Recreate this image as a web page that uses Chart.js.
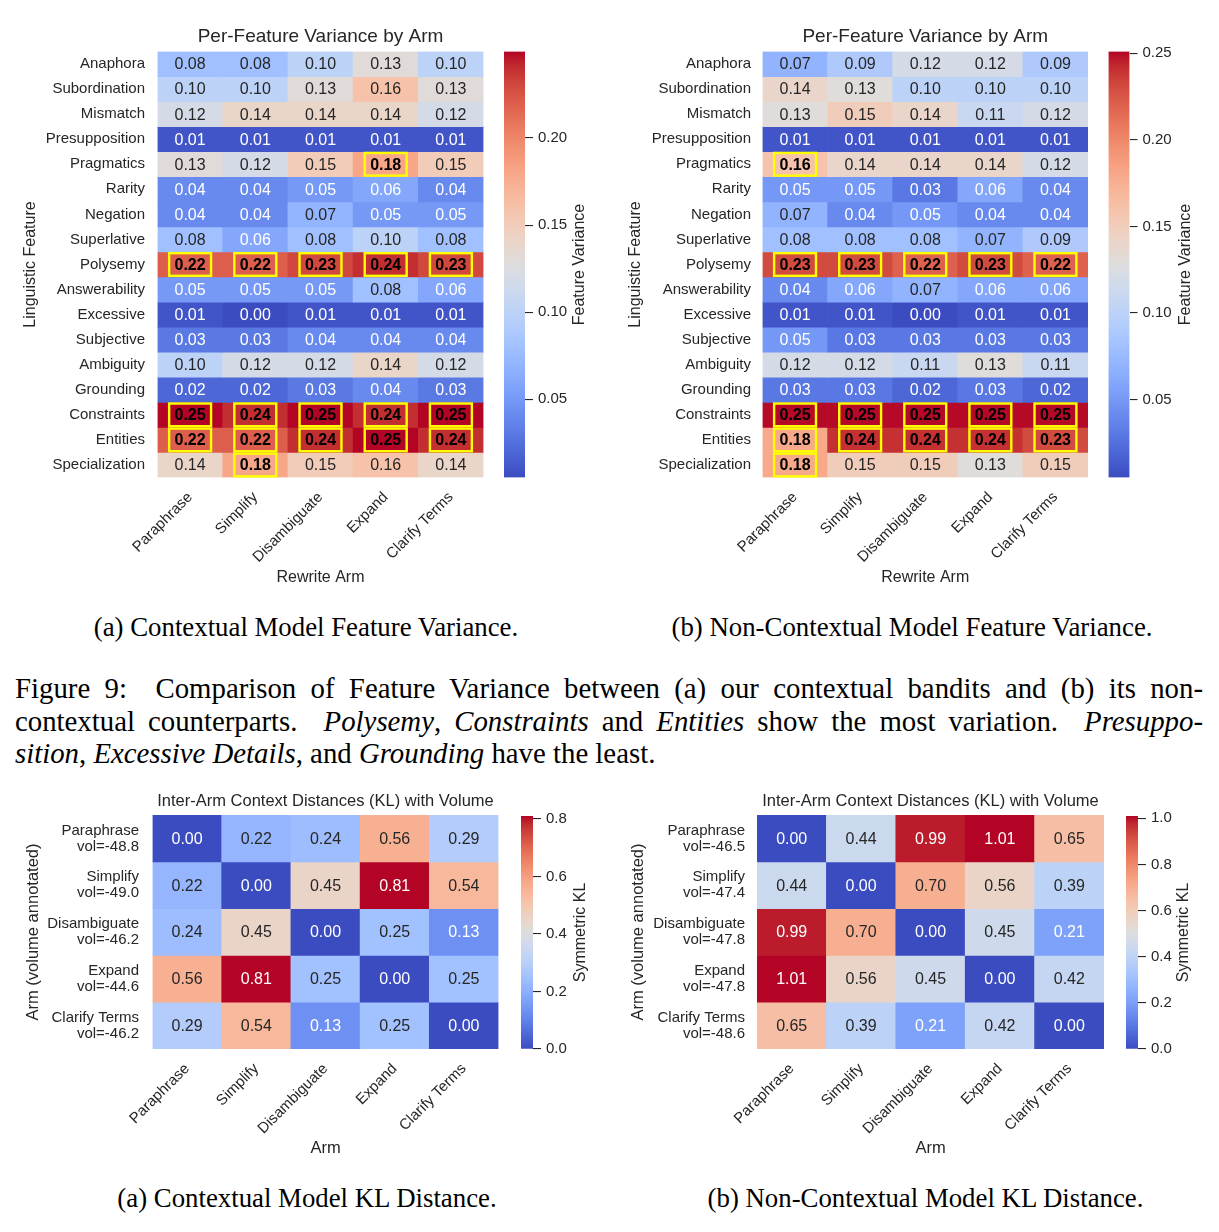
<!DOCTYPE html>
<html>
<head>
<meta charset="utf-8">
<title>Figure 9 - Feature variance and KL distance</title>
<script src="https://cdn.jsdelivr.net/npm/chart.js@4.4.1/dist/chart.umd.min.js"></script>
<style>
  html, body { margin: 0; padding: 0; background: #fff; }
  #page { position: relative; width: 1219px; height: 1232px; overflow: hidden; background: #fff; }
  #page canvas { position: absolute; }
  .sub, .cap { position: absolute; font-family: 'Liberation Serif', 'Times New Roman', serif; color: #000; }
  .sub { font-size: 26.8px; line-height: 32px; text-align: center; white-space: nowrap; }
  .cap { left: 15px; width: 1188px; font-size: 28.8px; line-height: 32.5px; text-align: justify; }
  .cap.full { text-align-last: justify; }
</style>
</head>
<body>
<div id="page">
  <canvas id="var-ctx" width="500" height="600" style="left:0;top:0"></canvas>
  <canvas id="var-ctx-cb" width="130" height="600" style="left:490px;top:0"></canvas>
  <canvas id="var-non" width="480" height="600" style="left:620px;top:0"></canvas>
  <canvas id="var-non-cb" width="124" height="600" style="left:1095px;top:0"></canvas>

  <div class="sub" style="left:0;width:612px;top:611px">(a) Contextual Model Feature Variance.</div>
  <div class="sub" style="left:605px;width:614px;top:611px">(b) Non-Contextual Model Feature Variance.</div>

  <div class="cap full" style="top:672px">Figure 9:&nbsp; Comparison of Feature Variance between (a) our contextual bandits and (b) its non-</div>
  <div class="cap full" style="top:704.5px">contextual counterparts.&nbsp; <i>Polysemy</i>, <i>Constraints</i> and <i>Entities</i> show the most variation.&nbsp; <i>Presuppo-</i></div>
  <div class="cap" style="top:737px"><i>sition</i>, <i>Excessive Details</i>, and <i>Grounding</i> have the least.</div>

  <canvas id="kl-ctx" width="515" height="390" style="left:0;top:770px"></canvas>
  <canvas id="kl-ctx-cb" width="120" height="390" style="left:505px;top:770px"></canvas>
  <canvas id="kl-non" width="500" height="390" style="left:620px;top:770px"></canvas>
  <canvas id="kl-non-cb" width="109" height="390" style="left:1110px;top:770px"></canvas>

  <div class="sub" style="left:0;width:614px;top:1182px">(a) Contextual Model KL Distance.</div>
  <div class="sub" style="left:632px;width:587px;top:1182px">(b) Non-Contextual Model KL Distance.</div>
</div>

<script>
// ---- data ----
const arms = ['Paraphrase', 'Simplify', 'Disambiguate', 'Expand', 'Clarify Terms'];
const features = ['Anaphora', 'Subordination', 'Mismatch', 'Presupposition', 'Pragmatics', 'Rarity',
  'Negation', 'Superlative', 'Polysemy', 'Answerability', 'Excessive', 'Subjective', 'Ambiguity',
  'Grounding', 'Constraints', 'Entities', 'Specialization'];

// per-feature variance, rows = features, columns = arms
const ctxVariance = [
  [0.08, 0.08, 0.10, 0.13, 0.10],
  [0.10, 0.10, 0.13, 0.16, 0.13],
  [0.12, 0.14, 0.14, 0.14, 0.12],
  [0.01, 0.01, 0.01, 0.01, 0.01],
  [0.13, 0.12, 0.15, 0.18, 0.15],
  [0.04, 0.04, 0.05, 0.06, 0.04],
  [0.04, 0.04, 0.07, 0.05, 0.05],
  [0.08, 0.06, 0.08, 0.10, 0.08],
  [0.22, 0.22, 0.23, 0.24, 0.23],
  [0.05, 0.05, 0.05, 0.08, 0.06],
  [0.01, 0.00, 0.01, 0.01, 0.01],
  [0.03, 0.03, 0.04, 0.04, 0.04],
  [0.10, 0.12, 0.12, 0.14, 0.12],
  [0.02, 0.02, 0.03, 0.04, 0.03],
  [0.25, 0.24, 0.25, 0.24, 0.25],
  [0.22, 0.22, 0.24, 0.25, 0.24],
  [0.14, 0.18, 0.15, 0.16, 0.14]
];
const nonCtxVariance = [
  [0.07, 0.09, 0.12, 0.12, 0.09],
  [0.14, 0.13, 0.10, 0.10, 0.10],
  [0.13, 0.15, 0.14, 0.11, 0.12],
  [0.01, 0.01, 0.01, 0.01, 0.01],
  [0.16, 0.14, 0.14, 0.14, 0.12],
  [0.05, 0.05, 0.03, 0.06, 0.04],
  [0.07, 0.04, 0.05, 0.04, 0.04],
  [0.08, 0.08, 0.08, 0.07, 0.09],
  [0.23, 0.23, 0.22, 0.23, 0.22],
  [0.04, 0.06, 0.07, 0.06, 0.06],
  [0.01, 0.01, 0.00, 0.01, 0.01],
  [0.05, 0.03, 0.03, 0.03, 0.03],
  [0.12, 0.12, 0.11, 0.13, 0.11],
  [0.03, 0.03, 0.02, 0.03, 0.02],
  [0.25, 0.25, 0.25, 0.25, 0.25],
  [0.18, 0.24, 0.24, 0.24, 0.23],
  [0.18, 0.15, 0.15, 0.13, 0.15]
];

// cells outlined in yellow (feature -> arms)
const ctxMarked = {
  Pragmatics: ['Expand'],
  Polysemy: ['Paraphrase', 'Simplify', 'Disambiguate', 'Expand', 'Clarify Terms'],
  Constraints: ['Paraphrase', 'Simplify', 'Disambiguate', 'Expand', 'Clarify Terms'],
  Entities: ['Paraphrase', 'Simplify', 'Disambiguate', 'Expand', 'Clarify Terms'],
  Specialization: ['Simplify']
};
const nonCtxMarked = {
  Pragmatics: ['Paraphrase'],
  Polysemy: ['Paraphrase', 'Simplify', 'Disambiguate', 'Expand', 'Clarify Terms'],
  Constraints: ['Paraphrase', 'Simplify', 'Disambiguate', 'Expand', 'Clarify Terms'],
  Entities: ['Paraphrase', 'Simplify', 'Disambiguate', 'Expand', 'Clarify Terms'],
  Specialization: ['Paraphrase']
};

// symmetric KL between arms
const ctxKL = [
  [0.00, 0.22, 0.24, 0.56, 0.29],
  [0.22, 0.00, 0.45, 0.81, 0.54],
  [0.24, 0.45, 0.00, 0.25, 0.13],
  [0.56, 0.81, 0.25, 0.00, 0.25],
  [0.29, 0.54, 0.13, 0.25, 0.00]
];
const nonCtxKL = [
  [0.00, 0.44, 0.99, 1.01, 0.65],
  [0.44, 0.00, 0.70, 0.56, 0.39],
  [0.99, 0.70, 0.00, 0.45, 0.21],
  [1.01, 0.56, 0.45, 0.00, 0.42],
  [0.65, 0.39, 0.21, 0.42, 0.00]
];
const ctxVolume = [-48.8, -49.0, -46.2, -44.6, -46.2];
const nonCtxVolume = [-46.5, -47.4, -47.8, -47.8, -48.6];

// colour scale limits and colorbar tick steps
const ctxVarRange = [0.005, 0.2497];
const nonCtxVarRange = [0.005, 0.251];
const ctxKLRange = [0, 0.81];
const nonCtxKLRange = [0, 1.01];
const varTickStep = 0.05;
const klTickStep = 0.2;

// ---- colours ----
// Moreland cool-warm table, 33 evenly spaced stops
const COOLWARM = [
  [59, 76, 192], [68, 90, 204], [77, 104, 215], [87, 117, 225], [98, 130, 234], [108, 142, 241],
  [119, 154, 247], [130, 165, 251], [141, 176, 254], [152, 185, 255], [163, 194, 255], [174, 201, 253],
  [184, 208, 249], [194, 213, 244], [204, 217, 238], [213, 219, 230], [221, 221, 221], [229, 216, 209],
  [236, 211, 197], [241, 204, 185], [245, 196, 173], [247, 187, 160], [247, 177, 148], [247, 166, 135],
  [244, 154, 123], [241, 141, 111], [236, 127, 99], [229, 112, 88], [222, 96, 77], [213, 80, 66],
  [203, 62, 56], [192, 40, 47], [180, 4, 38]
];
const FONT = "'Liberation Sans', Arial, sans-serif";
const INK = '#262626';

function coolwarm(t) {
  t = Math.min(1, Math.max(0, t)) * (COOLWARM.length - 1);
  const i = Math.min(Math.floor(t), COOLWARM.length - 2);
  const f = t - i;
  return COOLWARM[i].map((c, k) => Math.round(c + (COOLWARM[i + 1][k] - c) * f));
}
const rgb = c => `rgb(${c[0]}, ${c[1]}, ${c[2]})`;

function luminance(c) {
  const lin = v => { v /= 255; return v <= 0.03928 ? v / 12.92 : Math.pow((v + 0.055) / 1.055, 2.4); };
  return 0.2126 * lin(c[0]) + 0.7152 * lin(c[1]) + 0.0722 * lin(c[2]);
}

Chart.defaults.font.family = FONT;
Chart.defaults.color = INK;

// writes the value in every cell, yellow frame on marked ones
const cellText = {
  id: 'cellText',
  afterDatasetsDraw(chart, args, opts) {
    const { ctx } = chart;
    ctx.save();
    ctx.textAlign = 'center';
    ctx.textBaseline = 'middle';
    chart.data.datasets.forEach((ds, i) => {
      chart.getDatasetMeta(i).data.forEach((bar, j) => {
        const cy = (bar.y + bar.base) / 2;
        const h = Math.abs(bar.base - bar.y);
        if (ds.marks[j]) {
          const lw = 2.4;
          const w = bar.width * 0.68;
          ctx.strokeStyle = '#ffff00';
          ctx.lineWidth = lw;
          ctx.strokeRect(bar.x - w / 2 + lw / 2, cy - h / 2 + lw / 2, w - lw, h - lw);
          ctx.font = `bold ${opts.size}px ${FONT}`;
          ctx.fillStyle = '#000';
        } else {
          ctx.font = `${opts.size}px ${FONT}`;
          ctx.fillStyle = luminance(ds.cells[j]) > 0.408 ? INK : '#ffffff';
        }
        ctx.fillText(ds.values[j].toFixed(2), bar.x, cy + 1);
      });
    });
    ctx.restore();
  }
};

// colorbar label, reads bottom to top
const sideLabel = {
  id: 'sideLabel',
  afterDraw(chart, args, opts) {
    const { ctx, chartArea } = chart;
    ctx.save();
    ctx.translate(opts.x, (chartArea.top + chartArea.bottom) / 2);
    ctx.rotate(-Math.PI / 2);
    ctx.font = `${opts.size}px ${FONT}`;
    ctx.fillStyle = INK;
    ctx.textAlign = 'center';
    ctx.textBaseline = 'middle';
    ctx.fillText(opts.text, 0, 0);
    ctx.restore();
  }
};

/**
 * Heatmap as floating bars: one dataset per row, one bar per column.
 */
function drawHeatmap(id, o) {
  const [lo, hi] = o.range;
  const datasets = o.rows.map((row, i) => {
    const cells = o.values[i].map(v => coolwarm((v - lo) / (hi - lo)));
    return {
      label: row,
      data: o.cols.map(() => [i, i + 1]),
      values: o.values[i],
      cells: cells,
      marks: o.cols.map(c => ((o.marked || {})[row] || []).includes(c)),
      backgroundColor: cells.map(rgb),
      borderWidth: 0,
      grouped: false,
      barPercentage: 1,
      categoryPercentage: 1,
      xAxisID: 'x',
      yAxisID: 'y'
    };
  });

  new Chart(document.getElementById(id), {
    type: 'bar',
    data: { labels: o.cols, datasets },
    options: {
      responsive: false,
      animation: false,
      events: [],
      layout: { padding: { left: 0, top: 0, right: o.box.right, bottom: 0 } },
      plugins: {
        legend: { display: false },
        tooltip: { enabled: false },
        cellText: { size: o.textSize }
      },
      scales: {
        x: {
          position: 'bottom',
          grid: { display: false, drawTicks: false },
          border: { display: false },
          ticks: { minRotation: 45, maxRotation: 45, padding: o.xTickPad, font: { size: 15 } },
          title: { display: true, text: o.xTitle, font: { size: o.axisTitleSize }, padding: { top: 0, bottom: o.xTitlePad } },
          afterFit: s => { s.height = o.box.bottom; }
        },
        xTop: {
          type: 'category',
          position: 'top',
          grid: { display: false, drawTicks: false },
          border: { display: false },
          ticks: { display: false },
          title: { display: true, text: o.title, font: { size: o.titleSize }, padding: { top: o.titlePad, bottom: 0 } },
          afterFit: s => { s.height = o.box.top; }
        },
        y: {
          min: 0,
          max: o.rows.length,
          reverse: true,
          grid: { display: false, drawTicks: false },
          border: { display: false },
          afterBuildTicks: s => { s.ticks = o.rows.map((_, i) => ({ value: i + 0.5 })); },
          ticks: {
            autoSkip: false,
            padding: o.labelGap,
            font: { size: 15, lineHeight: 1.07 },
            callback: (v, i) => o.rowLabels[i]
          },
          title: { display: true, text: o.yTitle, font: { size: o.axisTitleSize }, padding: { top: o.yTitlePad, bottom: 0 } },
          afterFit: s => { s.width = o.box.left; }
        }
      }
    },
    plugins: [cellText]
  });
}

function drawColorbar(id, o) {
  new Chart(document.getElementById(id), {
    type: 'bar',
    data: {
      labels: [o.label],
      datasets: [{
        data: [o.range],
        backgroundColor: c => {
          const { ctx, chartArea } = c.chart;
          if (!chartArea) return rgb(COOLWARM[16]);
          const g = ctx.createLinearGradient(0, chartArea.bottom, 0, chartArea.top);
          COOLWARM.forEach((col, k) => g.addColorStop(k / (COOLWARM.length - 1), rgb(col)));
          return g;
        },
        borderWidth: 0,
        barPercentage: 1,
        categoryPercentage: 1
      }]
    },
    options: {
      responsive: false,
      animation: false,
      events: [],
      layout: { padding: o.pad },
      plugins: {
        legend: { display: false },
        tooltip: { enabled: false },
        sideLabel: { text: o.label, x: o.labelX, size: 16 }
      },
      scales: {
        x: { display: false },
        y: {
          position: 'right',
          min: o.range[0],
          max: o.range[1],
          grid: { drawOnChartArea: false, tickLength: 8, color: INK, lineWidth: 1.1 },
          border: { display: false },
          ticks: {
            stepSize: o.step,
            includeBounds: false,
            padding: 5,
            font: { size: 15 },
            callback: v => v.toFixed(o.digits)
          },
          afterFit: s => { s.width = o.axisW; }
        }
      }
    },
    plugins: [sideLabel]
  });
}

// ---- top row: per-feature variance ----
drawHeatmap('var-ctx', {
  rows: features, rowLabels: features, cols: arms, values: ctxVariance, marked: ctxMarked, range: ctxVarRange,
  title: 'Per-Feature Variance by Arm', titleSize: 19, titlePad: 25.6,
  xTitle: 'Rewrite Arm', yTitle: 'Linguistic Feature', axisTitleSize: 16,
  xTitlePad: 12.4, yTitlePad: 21.4, xTickPad: 11, labelGap: 12.5, textSize: 16,
  box: { left: 157.5, right: 16.5, top: 51.5, bottom: 122.5 }
});
drawColorbar('var-ctx-cb', {
  range: ctxVarRange, step: varTickStep, digits: 2, label: 'Feature Variance', labelX: 90,
  pad: { left: 14, top: 51.5, bottom: 122.5, right: 0 }, axisW: 95
});

drawHeatmap('var-non', {
  rows: features, rowLabels: features, cols: arms, values: nonCtxVariance, marked: nonCtxMarked, range: nonCtxVarRange,
  title: 'Per-Feature Variance by Arm', titleSize: 19, titlePad: 25.6,
  xTitle: 'Rewrite Arm', yTitle: 'Linguistic Feature', axisTitleSize: 16,
  xTitlePad: 12.4, yTitlePad: 6.4, xTickPad: 11, labelGap: 11.5, textSize: 16,
  box: { left: 142.5, right: 12, top: 51.5, bottom: 122.5 }
});
drawColorbar('var-non-cb', {
  range: nonCtxVarRange, step: varTickStep, digits: 2, label: 'Feature Variance', labelX: 91,
  pad: { left: 13.5, top: 51.5, bottom: 122.5, right: 0 }, axisW: 89.5
});

// ---- bottom row: KL distance between arms ----
drawHeatmap('kl-ctx', {
  rows: arms, rowLabels: arms.map((a, i) => [a, 'vol=' + ctxVolume[i].toFixed(1)]), cols: arms,
  values: ctxKL, range: ctxKLRange,
  title: 'Inter-Arm Context Distances (KL) with Volume', titleSize: 16.5, titlePad: 21.1,
  xTitle: 'Arm', yTitle: 'Arm (volume annotated)', axisTitleSize: 16.5,
  xTitlePad: 2.1, yTitlePad: 23.1, xTickPad: 11, labelGap: 13.5, textSize: 16,
  box: { left: 152.5, right: 16.5, top: 45, bottom: 111 }
});
drawColorbar('kl-ctx-cb', {
  range: ctxKLRange, step: klTickStep, digits: 1, label: 'Symmetric KL', labelX: 76,
  pad: { left: 16, top: 46, bottom: 111, right: 0 }, axisW: 92
});

drawHeatmap('kl-non', {
  rows: arms, rowLabels: arms.map((a, i) => [a, 'vol=' + nonCtxVolume[i].toFixed(1)]), cols: arms,
  values: nonCtxKL, range: nonCtxKLRange,
  title: 'Inter-Arm Context Distances (KL) with Volume', titleSize: 16.5, titlePad: 21.1,
  xTitle: 'Arm', yTitle: 'Arm (volume annotated)', axisTitleSize: 16.5,
  xTitlePad: 2.1, yTitlePad: 8.1, xTickPad: 11, labelGap: 12, textSize: 16,
  box: { left: 137, right: 16, top: 45, bottom: 111 }
});
drawColorbar('kl-non-cb', {
  range: nonCtxKLRange, step: klTickStep, digits: 1, label: 'Symmetric KL', labelX: 74,
  pad: { left: 16, top: 46, bottom: 111, right: 0 }, axisW: 81
});
</script>
</body>
</html>
